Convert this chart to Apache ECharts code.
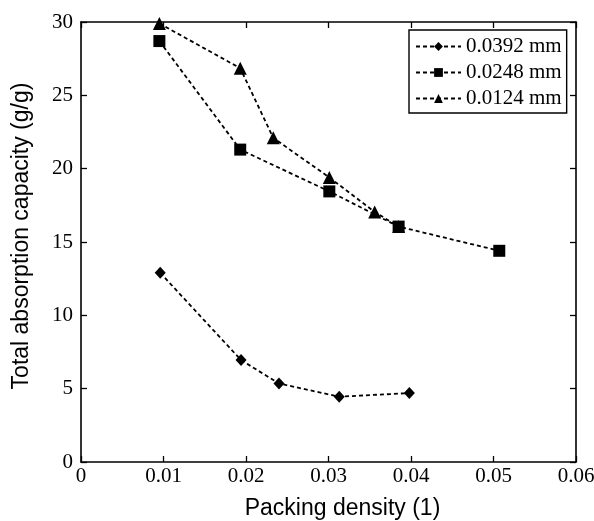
<!DOCTYPE html>
<html><head><meta charset="utf-8">
<script src="https://cdn.jsdelivr.net/npm/echarts@6/dist/echarts.min.js"></script>
<style>html,body{margin:0;padding:0;background:#fff}#c{width:594px;height:521px}</style>
</head><body><div id="c"></div>
<script>
const seriesNames = ['0.0392 mm', '0.0248 mm', '0.0124 mm'];
const d0392 = [[0.0096, 12.9], [0.0194, 6.95], [0.0240, 5.35], [0.0313, 4.45], [0.0398, 4.7]];
const d0248 = [[0.0095, 28.7], [0.0193, 21.3], [0.0301, 18.45], [0.0385, 16.05], [0.0507, 14.4]];
const d0124 = [[0.0095, 29.9], [0.0193, 26.85], [0.0233, 22.1], [0.0301, 19.4], [0.0356, 17.05], [0.0385, 16.05]];
const xTicks = [0, 0.01, 0.02, 0.03, 0.04, 0.05, 0.06];
const yTicks = [0, 5, 10, 15, 20, 25, 30];

const chart = echarts.init(document.getElementById('c'));
const serif = 'Liberation Serif';
const sans = 'Liberation Sans';
const axisCommon = {
  axisLine: {show: true, onZero: false, lineStyle: {color: '#000', width: 1.6}},
  axisTick: {show: true, inside: true, length: 6, lineStyle: {color: '#000', width: 1.3}},
  splitLine: {show: false},
  nameMoveOverlap: false
};
function mk(name, data, symbol, size) {
  return {
    name, type: 'line', data, symbol, symbolSize: size,
    itemStyle: {color: '#000'},
    lineStyle: {color: '#000', width: 1.8, type: [4, 3]},
    showAllSymbol: true, z: 3
  };
}
chart.setOption({
  animation: false,
  backgroundColor: '#fff',
  grid: {left: 81, right: 18, top: 22, bottom: 59, outerBoundsMode: 'none', containLabel: false},
  legend: {
    orient: 'vertical', left: 409, top: 30,
    padding: [6, 5, 4, 6], itemGap: 5,
    borderColor: '#000', borderWidth: 1.4,
    itemWidth: 45, itemHeight: 11,
    textStyle: {fontFamily: serif, fontSize: 21, color: '#000'},
    data: seriesNames
  },
  xAxis: [
    Object.assign({}, axisCommon, {
      type: 'value', min: 0, max: 0.06, interval: 0.01, position: 'bottom',
      name: 'Packing density (1)', nameLocation: 'middle', nameGap: 35,
      nameTextStyle: {fontFamily: sans, fontSize: 23, color: '#000', padding: [0, 0, 0, 28]},
      axisLabel: {fontFamily: serif, fontSize: 21, color: '#000', margin: 4,
        formatter: v => { const i = xTicks.findIndex(t => Math.abs(t - v) < 1e-9); return i >= 0 ? String(xTicks[i]) : ''; }}
    }),
    Object.assign({}, axisCommon, {
      type: 'value', min: 0, max: 0.06, interval: 0.01, position: 'top',
      axisLabel: {show: false}
    })
  ],
  yAxis: [
    Object.assign({}, axisCommon, {
      type: 'value', min: 0, max: 30, interval: 5, position: 'left',
      name: 'Total absorption capacity (g/g)', nameLocation: 'middle', nameGap: 48,
      nameTextStyle: {fontFamily: sans, fontSize: 23, color: '#000', padding: [0, 0, 0, 12]},
      axisLabel: {fontFamily: serif, fontSize: 21, color: '#000', margin: 8,
        formatter: v => { const i = yTicks.indexOf(v); return i >= 0 ? String(yTicks[i]) : ''; }}
    }),
    Object.assign({}, axisCommon, {
      type: 'value', min: 0, max: 30, interval: 5, position: 'right',
      axisLabel: {show: false}
    })
  ],
  series: [
    mk(seriesNames[0], d0392, 'diamond', [11, 12]),
    mk(seriesNames[1], d0248, 'rect', 12),
    mk(seriesNames[2], d0124, 'triangle', 13)
  ]
});
</script></body></html>
